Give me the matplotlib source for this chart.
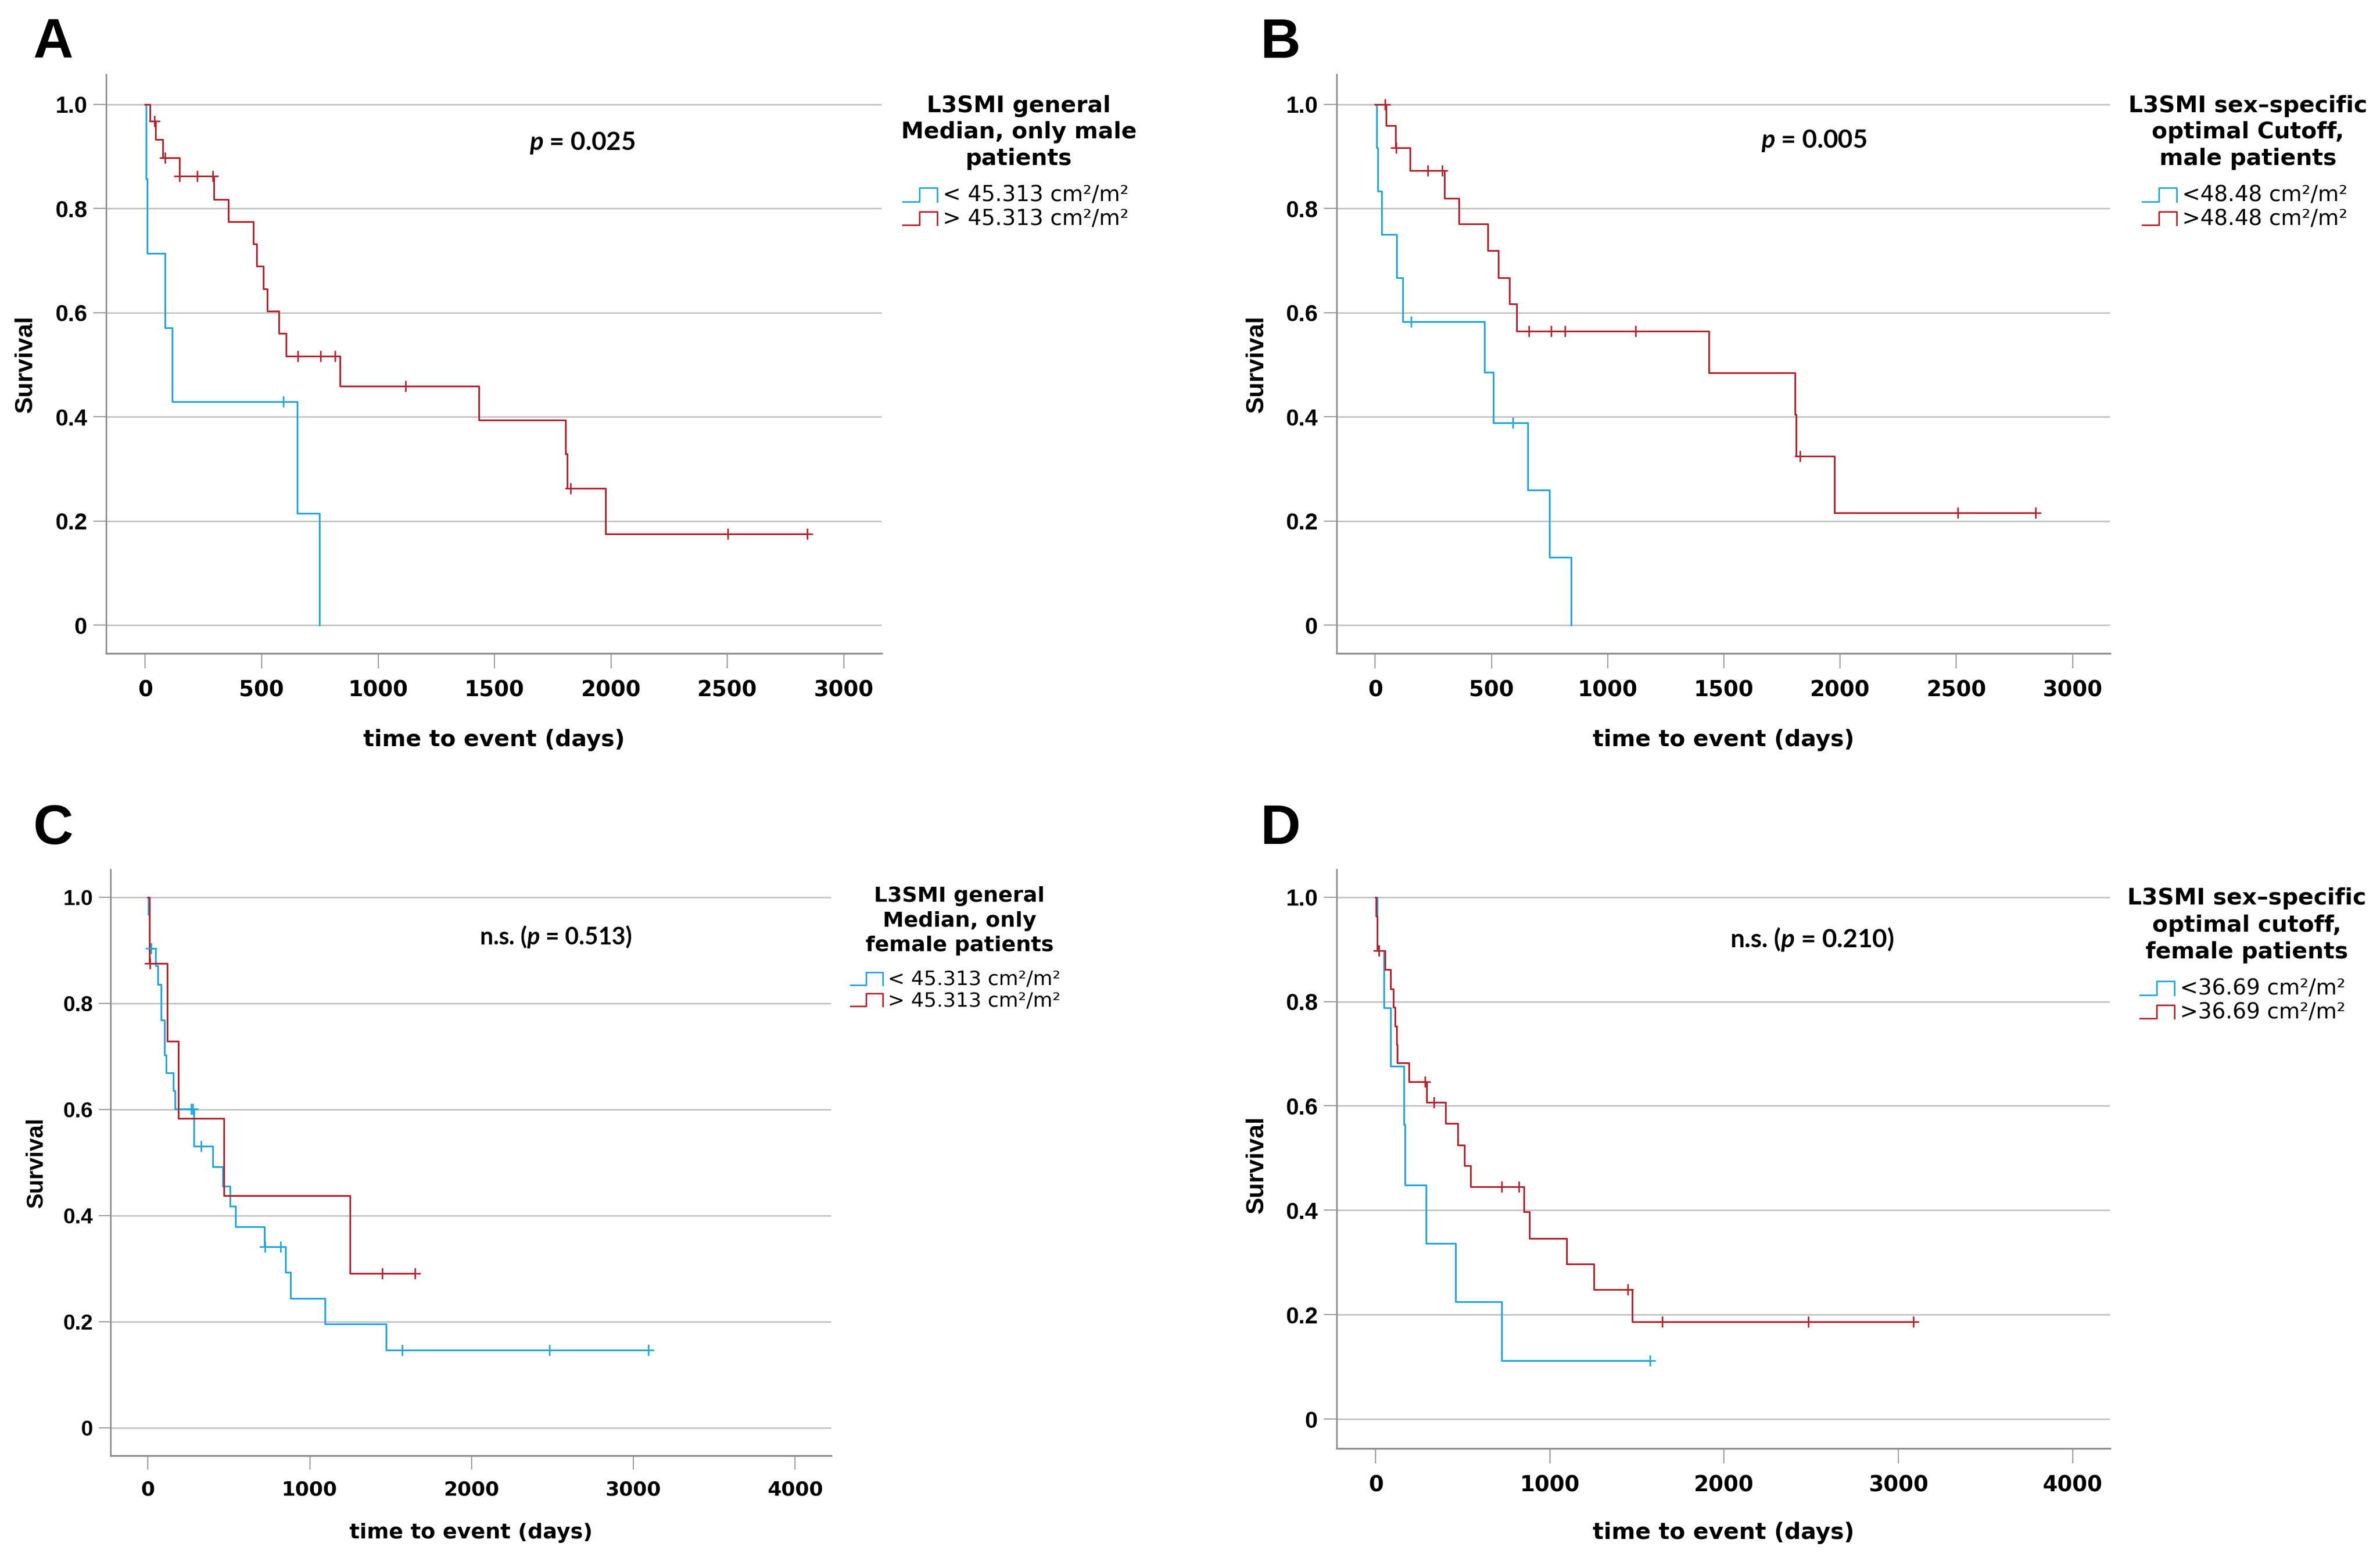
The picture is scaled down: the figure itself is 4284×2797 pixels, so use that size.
import numpy as np
import matplotlib
matplotlib.use("Agg")
import matplotlib.pyplot as plt
from matplotlib.lines import Line2D
from matplotlib.legend_handler import HandlerBase
from matplotlib.font_manager import FontProperties

plt.rcParams['mathtext.fontset'] = 'custom'
plt.rcParams['mathtext.it'] = 'Lato:italic:bold'
plt.rcParams['mathtext.rm'] = 'Lato:bold'
plt.rcParams['mathtext.bf'] = 'Lato:bold'

# ------------------------------------------------------------------ data
# Panel A: L3SMI general median, male patients
A_low_t = [4, 8, 86, 115, 653, 748]
A_low_s = [0.857, 0.714, 0.571, 0.429, 0.214, 0.0]
A_low_c = [592]
A_high_t = [20, 44, 75, 146, 296, 358, 464, 479, 508, 525, 574, 605, 837, 1433, 1806, 1812, 1978]
A_high_s = [0.968, 0.933, 0.898, 0.862, 0.818, 0.775, 0.732, 0.689, 0.646, 0.603, 0.560, 0.517,
            0.459, 0.394, 0.329, 0.263, 0.175]
A_high_c = [40, 86, 148, 223, 289, 656, 753, 815, 1119, 1826, 2503, 2843]

# Panel B: sex-specific optimal cutoff, male patients
B_low_t = [5, 11, 27, 93, 119, 469, 508, 656, 749, 842]
B_low_s = [0.917, 0.833, 0.750, 0.667, 0.583, 0.486, 0.389, 0.259, 0.130, 0.0]
B_low_c = [155, 592]
B_high_t = [46, 88, 150, 298, 360, 484, 530, 577, 608, 1435, 1805, 1810, 1976]
B_high_s = [0.959, 0.917, 0.873, 0.820, 0.770, 0.719, 0.667, 0.617, 0.565, 0.484, 0.404, 0.324, 0.216]
B_high_c = [42, 90, 225, 287, 661, 756, 816, 1121, 1828, 2507, 2840]

# Panel C: L3SMI general median, female patients
C_low_t = [3, 8, 47, 62, 83, 103, 112, 157, 168, 284, 402, 461, 508, 541, 721, 851, 881, 1094, 1472]
C_low_s = [0.968, 0.904, 0.871, 0.836, 0.768, 0.702, 0.669, 0.635, 0.601, 0.531, 0.492, 0.455,
           0.417, 0.379, 0.341, 0.293, 0.244, 0.195, 0.146]
C_low_c = [20, 268, 278, 328, 724, 819, 1573, 2483, 3092]
C_high_t = [9, 118, 189, 470, 1250]
C_high_s = [0.875, 0.729, 0.583, 0.437, 0.291]
C_high_c = [14, 1448, 1649]

# Panel D: sex-specific optimal cutoff, female patients
D_low_t = [9, 47, 86, 162, 168, 289, 460, 723]
D_low_s = [0.898, 0.788, 0.676, 0.564, 0.448, 0.336, 0.225, 0.112]
D_low_c = [18, 1575]
D_high_t = [3, 8, 53, 86, 100, 110, 120, 125, 192, 292, 401, 472, 510, 543, 850, 882, 1097, 1251, 1472]
D_high_s = [0.964, 0.898, 0.861, 0.824, 0.789, 0.753, 0.718, 0.683, 0.646, 0.607, 0.566, 0.525,
            0.485, 0.445, 0.397, 0.346, 0.297, 0.248, 0.186]
D_high_c = [18, 283, 333, 723, 823, 1446, 1646, 2484, 3086]

y_ticks = [0, 0.2, 0.4, 0.6, 0.8, 1.0]
y_tick_labels = ['0', '0.2', '0.4', '0.6', '0.8', '1.0']
x_ticks_AB = [0, 500, 1000, 1500, 2000, 2500, 3000]
x_ticks_CD = [0, 1000, 2000, 3000, 4000]

titles = {
    'A': ['L3SMI general', 'Median, only male', 'patients'],
    'B': ['L3SMI sex–specific', 'optimal Cutoff,', 'male patients'],
    'C': ['L3SMI general', 'Median, only', 'female patients'],
    'D': ['L3SMI sex–specific', 'optimal cutoff,', 'female patients'],
}
labels = {
    'A': ['< 45.313 cm²/m²', '> 45.313 cm²/m²'],
    'B': ['<48.48 cm²/m²', '>48.48 cm²/m²'],
    'C': ['< 45.313 cm²/m²', '> 45.313 cm²/m²'],
    'D': ['<36.69 cm²/m²', '>36.69 cm²/m²'],
}
pvals = {
    'A': r'$p$ = 0.025',
    'B': r'$p$ = 0.005',
    'C': r'n.s. ($p$ = 0.513)',
    'D': r'n.s. ($p$ = 0.210)',
}

BLUE = '#22a6dd'
RED = '#b4242e'
GRID = '#c4c4c4'
SPINE = '#8e8e8e'

W, H = 4284, 2797
DPI = 100
fig = plt.figure(figsize=(W / DPI, H / DPI), dpi=DPI)
fig.patch.set_facecolor('white')


def fx(x):
    return x / W


def fy(y):
    return 1 - y / H


class StepHandler(HandlerBase):
    def create_artists(self, legend, orig_handle, xdescent, ydescent,
                       width, height, fontsize, trans):
        x0, y0 = -xdescent, -ydescent
        xm = x0 + 0.49 * width
        yb = y0 - 0.05 * height
        yt = y0 + 0.95 * height
        ln = Line2D([x0, xm, xm, x0 + width, x0 + width], [yb, yb, yt, yt, yb],
                    color=orig_handle.get_color(), lw=2.0)
        ln.set_transform(trans)
        return [ln]


def km_line(ax, t, s, c, color):
    t = np.asarray(t, float)
    s = np.asarray(s, float)
    c = np.asarray(c, float)
    end = max(t[-1], c.max() if c.size else 0)
    x = np.concatenate([[0], t, [end]])
    y = np.concatenate([[1.0], s, [s[-1]]])
    line, = ax.step(x, y, where='post', color=color, lw=2.2, zorder=3)
    idx = np.searchsorted(t, c, side='right') - 1
    yc = np.where(idx < 0, 1.0, s[np.clip(idx, 0, None)])
    ax.plot(c, yc, linestyle='none', marker='+', ms=14, mew=2.0, color=color, zorder=4)
    return line


panels = [
    dict(key='A', box=(191, 134, 1587, 1176), xlim=(-168, 3163), ylim=(-0.0544, 1.0576),
         low=(A_low_t, A_low_s, A_low_c), high=(A_high_t, A_high_s, A_high_c), xt=x_ticks_AB, k=1.0,
         letter=(96, 104), p=(1048, 270), tx=1834, tb=202, tsp=47.5, leg=(1625, 373),
         xlab_y=-0.160, ylab=(-0.104, 0.5)),
    dict(key='B', box=(2406, 134, 3798, 1176), xlim=(-166, 3161), ylim=(-0.0544, 1.0576),
         low=(B_low_t, B_low_s, B_low_c), high=(B_high_t, B_high_s, B_high_c), xt=x_ticks_AB, k=1.0,
         letter=(2304, 104), p=(3265, 266), tx=4046, tb=202, tsp=47.5, leg=(3856, 373),
         xlab_y=-0.160, ylab=(-0.1034, 0.5)),
    dict(key='C', box=(199, 1565, 1496, 2620), xlim=(-231, 4222), ylim=(-0.0529, 1.0524),
         low=(C_low_t, C_low_s, C_low_c), high=(C_high_t, C_high_s, C_high_c), xt=x_ticks_CD, k=0.93,
         letter=(96, 1519), p=(1000, 1700), tx=1727, tb=1623, tsp=44.5, leg=(1531, 1782),
         xlab_y=-0.141, ylab=(-0.1026, 0.5)),
    dict(key='D', box=(2406, 1565, 3798, 2607), xlim=(-224, 4215), ylim=(-0.0564, 1.053),
         low=(D_low_t, D_low_s, D_low_c), high=(D_high_t, D_high_s, D_high_c), xt=x_ticks_CD, k=1.0,
         letter=(2304, 1519), p=(3262, 1705), tx=4044, tb=1628, tsp=48.5, leg=(3852, 1801),
         xlab_y=-0.156, ylab=(-0.1034, 0.49)),
]

for P in panels:
    l, t, r, b = P['box']
    k = P['k']
    ax = fig.add_axes([fx(l), fy(b), (r - l) / W, (b - t) / H])
    ax.set_xlim(*P['xlim'])
    ax.set_ylim(*P['ylim'])
    ax.set_axisbelow(True)
    for sp in ('top', 'right'):
        ax.spines[sp].set_visible(False)
    ax.spines['left'].set_color(SPINE)
    ax.spines['left'].set_linewidth(2.0)
    ax.spines['bottom'].set_color(SPINE)
    ax.spines['bottom'].set_linewidth(2.4)
    ax.yaxis.grid(True, color=GRID, lw=2.0)
    ax.xaxis.grid(False)

    ax.set_yticks(y_ticks, y_tick_labels, fontfamily='Liberation Sans', fontweight='bold',
                  fontsize=30 * k)
    ax.set_xticks(P['xt'], [str(v) for v in P['xt']], fontfamily='DejaVu Sans', fontweight='bold',
                  fontsize=28 * k)
    ax.tick_params(axis='y', length=16.5 * k, width=1.5, color='#9e9e9e', pad=8 * k)
    ax.tick_params(axis='x', length=19.5 * k, width=1.5, color='#9e9e9e', pad=15 * k)

    ax.set_xlabel('time to event (days)', fontfamily='DejaVu Sans', fontweight='bold',
                  fontsize=29.5 * k, va='baseline')
    ax.xaxis.set_label_coords(0.5, P['xlab_y'])
    ax.set_ylabel('Survival', fontfamily='Liberation Sans', fontweight='bold',
                  fontsize=32.5 * k, va='center', ha='center')
    ax.yaxis.set_label_coords(*P['ylab'])

    l_low = km_line(ax, *P['low'], BLUE)
    l_high = km_line(ax, *P['high'], RED)

    fig.text(fx(P['p'][0]), fy(P['p'][1]), pvals[P['key']], ha='center', va='baseline',
             fontfamily='Lato', fontweight='bold', fontsize=33 * k)

    fig.text(fx(P['letter'][0]), fy(P['letter'][1]), P['key'], ha='center', va='baseline',
             fontfamily='Liberation Sans', fontweight='bold', fontsize=72)

    for i, line in enumerate(titles[P['key']]):
        fig.text(fx(P['tx']), fy(P['tb'] + i * P['tsp']), line, ha='center', va='baseline',
                 fontfamily='DejaVu Sans', fontweight='bold', fontsize=29.5 * k)

    ax.legend([l_low, l_high], labels[P['key']], loc='center left',
              bbox_to_anchor=(fx(P['leg'][0]), fy(P['leg'][1])),
              bbox_transform=fig.transFigure, frameon=False, borderpad=0,
              borderaxespad=0, handlelength=1.6, handleheight=0.6, handletextpad=0.26,
              labelspacing=0.12,
              prop=FontProperties(family='DejaVu Sans', size=28 * k),
              handler_map={Line2D: StepHandler()})

fig.savefig('out.png', dpi=DPI, facecolor='white')
